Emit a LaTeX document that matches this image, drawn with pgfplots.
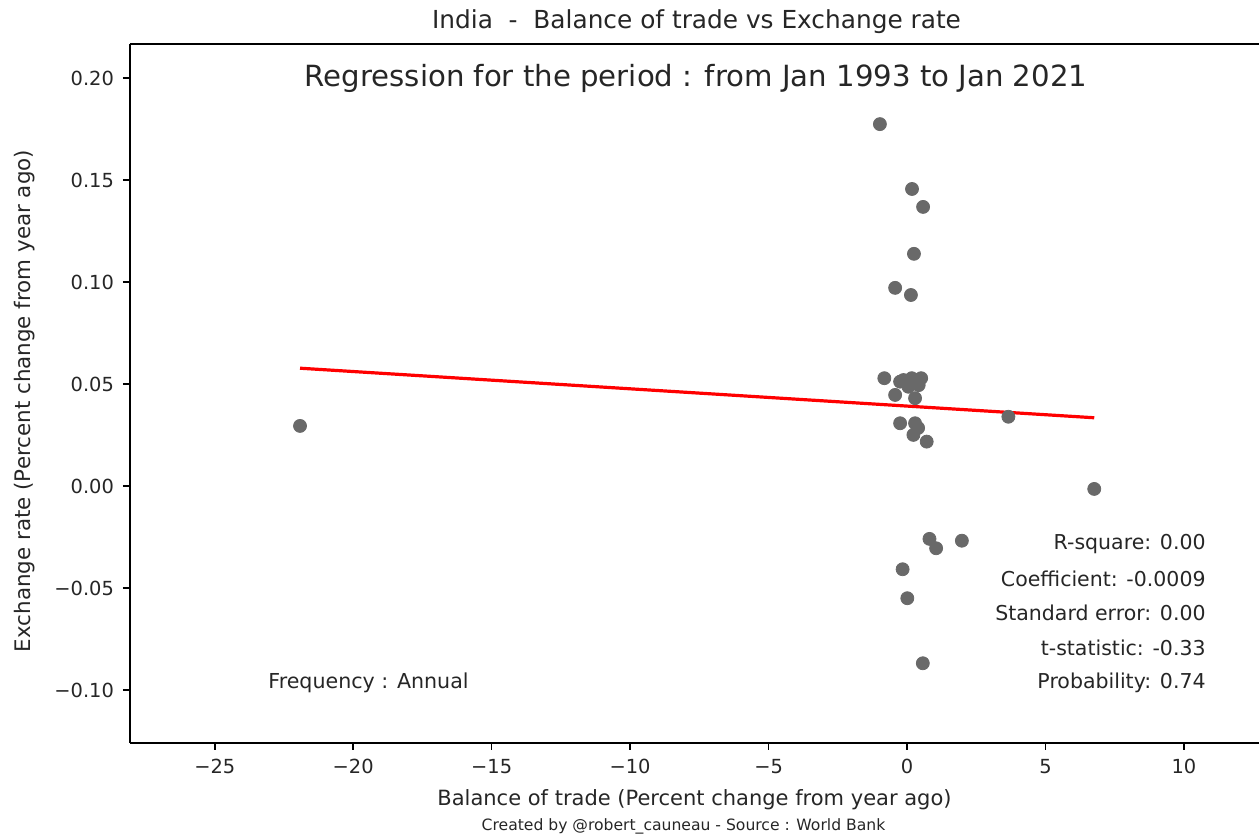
\documentclass[border=0pt]{standalone}
\usepackage{pgfplots}
\pgfplotsset{compat=1.18}
\usepackage{fontspec}
\setmainfont{DejaVu Sans}
\definecolor{dotgrey}{RGB}{105,105,105}
\definecolor{txt}{RGB}{38,38,38}
\begin{document}
\begin{tikzpicture}
\begin{axis}[
  scale only axis,
  width=564.5pt, height=349.5pt,
  xmin=-28.06, xmax=12.71,
  ymin=-0.126, ymax=0.2168,
  axis lines=left,
  axis line style={-, black, line width=0.8pt},
  tick align=outside,
  major tick length=3.5pt,
  tick style={black, line width=0.8pt},
  xtick={-25,-20,-15,-10,-5,0,5,10},
  xticklabels={−25,−20,−15,−10,−5,0,5,10},
  ytick={-0.10,-0.05,0,0.05,0.10,0.15,0.20},
  yticklabels={−0.10,−0.05,0.00,0.05,0.10,0.15,0.20},
  tick label style={font=\fontsize{9.7}{11}\selectfont, text=txt},
  xticklabel style={yshift=-1pt},
  yticklabel style={xshift=-1pt},
  clip=false,
]
\addplot[color=dotgrey, only marks, mark=*, mark size=3.25pt, mark options={draw=none, fill=dotgrey}] coordinates {
(-21.92,0.0295)
(-0.98,0.1775)
(0.18,0.1457)
(0.58,0.1369)
(0.25,0.1139)
(-0.43,0.0972)
(0.14,0.0937)
(-0.82,0.0529)
(-0.13,0.0520)
(0.17,0.0529)
(0.51,0.0529)
(-0.43,0.0447)
(0.05,0.0487)
(0.29,0.0431)
(-0.25,0.0512)
(0.42,0.0495)
(3.66,0.0340)
(-0.25,0.0308)
(0.29,0.0308)
(0.23,0.0251)
(0.40,0.0285)
(0.71,0.0218)
(6.76,-0.0014)
(0.81,-0.0259)
(1.05,-0.0305)
(1.98,-0.0268)
(-0.16,-0.0408)
(0.01,-0.0550)
(0.57,-0.0869)
};
\addplot[red, line width=1.6pt] coordinates {(-21.92,0.0578) (6.76,0.0335)};
\draw[black, line width=0.8pt] (rel axis cs:0,1) -- (rel axis cs:1,1);
\coordinate (O) at (rel axis cs:0,0);
\coordinate (NE) at (rel axis cs:1,1);
\end{axis}
\begin{scope}[shift={(O)}, every node/.style={inner sep=0pt, text=txt}]
\node[font=\fontsize{12.4}{14}\selectfont] at (283.25pt,360.5pt) {India\ \ -\ \ Balance of trade vs Exchange rate};
\node[font=\fontsize{14.6}{16}\selectfont] at (283pt,332.5pt) {Regression for the period : from Jan 1993 to Jan 2021};
\node[font=\fontsize{10.25}{12}\selectfont, anchor=east] at (538pt,99.5pt) {R-square: 0.00};
\node[font=\fontsize{10.25}{12}\selectfont, anchor=east] at (538pt,82pt) {Coefficient: -0.0009};
\node[font=\fontsize{10.25}{12}\selectfont, anchor=east] at (538pt,65pt) {Standard error: 0.00};
\node[font=\fontsize{10.25}{12}\selectfont, anchor=east] at (538pt,47.5pt) {t-statistic: -0.33};
\node[font=\fontsize{10.25}{12}\selectfont, anchor=east] at (538pt,30pt) {Probability: 0.74};
\node[font=\fontsize{10.3}{12}\selectfont, anchor=west] at (69pt,30pt) {Frequency : Annual};
\node[font=\fontsize{10.5}{12}\selectfont] at (282.25pt,-28.5pt) {Balance of trade (Percent change from year ago)};
\node[font=\fontsize{7.8}{9}\selectfont] at (276.75pt,-41.5pt) {Created by @robert\_cauneau - Source : World Bank};
\node[font=\fontsize{10.7}{12}\selectfont, rotate=90] at (-52.5pt,171pt) {Exchange rate (Percent change from year ago)};
\end{scope}
\pgfresetboundingbox
\path[use as bounding box] ([xshift=-65pt,yshift=-46pt]O) rectangle ([yshift=22pt]NE);
\end{tikzpicture}
\end{document}
